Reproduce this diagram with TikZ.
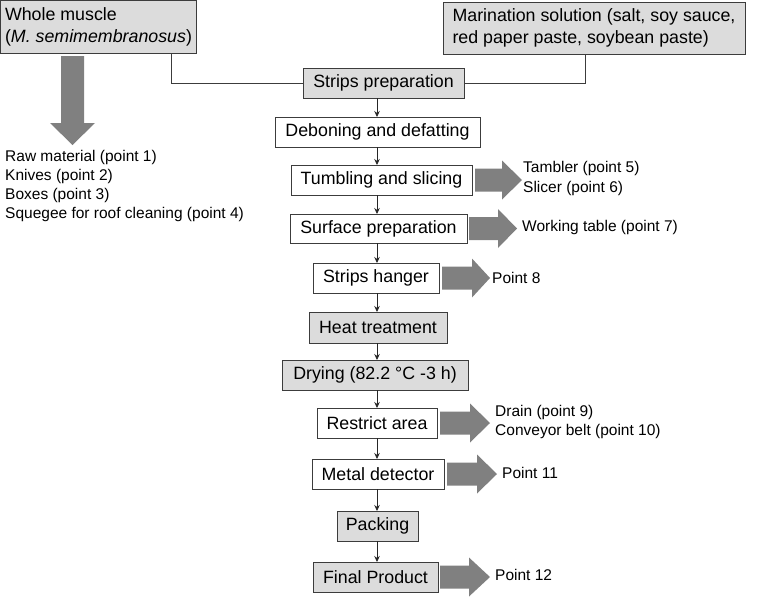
\documentclass[tikz,border=0pt]{standalone}
\usepackage{fontspec}
\setmainfont{Liberation Sans}
\usetikzlibrary{arrows.meta}
\definecolor{boxgray}{RGB}{220,220,220}
\definecolor{edgegray}{RGB}{60,60,60}
\definecolor{arrgray}{RGB}{128,128,128}
\tikzset{
  stepbox/.style={draw=edgegray, line width=0.9pt, fill=white, inner sep=0pt, outer sep=0pt,
    font=\fontsize{17.8}{22}\selectfont, text=black},
  graybox/.style={stepbox, fill=boxgray},
  flow/.style={draw=black!85, line width=0.7pt, -{Stealth[length=6pt,width=5.5pt]}},
  feed/.style={draw=edgegray, line width=0.8pt},
  lbl/.style={anchor=west, inner sep=0pt, align=left, font=\fontsize{15.5}{19.3}\selectfont},
  blockarr/.style={fill=arrgray, draw=none}
}
% right block arrow: start x, head-start x, tip x, centre y
\newcommand{\myRArrow}[4]{%
  \fill[blockarr] (#1,#4-11.5) -- (#2,#4-11.5) -- (#2,#4-19.5) -- (#3,#4) -- (#2,#4+19.5) -- (#2,#4+11.5) -- (#1,#4+11.5) -- cycle;}
\begin{document}
\begin{tikzpicture}[x=1pt,y=-1pt]
\useasboundingbox (0,0) rectangle (757,597);

% top source boxes
\node[graybox, minimum width=196pt, minimum height=53pt, anchor=north west, align=left] (wm) at (0.5,0.5)
  {Whole muscle\\(\textit{M. semimembranosus})};
\node[graybox, minimum width=302pt, minimum height=52pt, anchor=north west, align=left] (mar) at (443,2)
  {Marination solution (salt, soy sauce,\\red paper paste, soybean paste)};

% process column
\node[graybox, minimum width=161pt, minimum height=30pt] (strips) at (383.5,83) {Strips preparation};
\node[stepbox, minimum width=205pt, minimum height=30pt] (debon) at (377.5,132) {Deboning and defatting};
\node[stepbox, minimum width=181pt, minimum height=30pt] (tumb) at (381.5,180) {Tumbling and slicing};
\node[stepbox, minimum width=177pt, minimum height=29pt] (surf) at (378.5,228.5) {Surface preparation};
\node[stepbox, minimum width=126pt, minimum height=30pt] (hang) at (376,278) {Strips hanger};
\node[graybox, minimum width=138pt, minimum height=31pt] (heat) at (378,327.5) {Heat treatment};
\node[graybox, minimum width=186pt, minimum height=30pt] (dry) at (375,375) {Drying (82.2 °C -3 h)};
\node[stepbox, minimum width=120pt, minimum height=30pt] (restr) at (377,423) {Restrict area};
\node[stepbox, minimum width=132pt, minimum height=30pt] (metal) at (378,474) {Metal detector};
\node[graybox, minimum width=81pt, minimum height=30pt] (pack) at (377.5,526) {Packing};
\node[graybox, minimum width=125pt, minimum height=30pt] (final) at (375.5,577) {Final Product};

% feed connectors
\coordinate (c1) at (171,0);
\coordinate (c2) at (585,0);
\coordinate (ax) at (377,0);
\draw[feed] (wm.south -| c1) |- (strips.west);
\draw[feed] (mar.south -| c2) |- (strips.east);

% flow arrows
\draw[flow] (strips.south -| ax) -- (debon.north -| ax);
\draw[flow] (debon.south -| ax) -- (tumb.north -| ax);
\draw[flow] (tumb.south -| ax) -- (surf.north -| ax);
\draw[flow] (surf.south -| ax) -- (hang.north -| ax);
\draw[flow] (hang.south -| ax) -- (heat.north -| ax);
\draw[flow] (heat.south -| ax) -- (dry.north -| ax);
\draw[flow] (dry.south -| ax) -- (restr.north -| ax);
\draw[flow] (restr.south -| ax) -- (metal.north -| ax);
\draw[flow] (metal.south -| ax) -- (pack.north -| ax);
\draw[flow] (pack.south -| ax) -- (final.north -| ax);

% block arrows
\fill[blockarr] (61,56) -- (84,56) -- (84,123) -- (95,123) -- (72.5,145) -- (50,123) -- (61,123) -- cycle;
\myRArrow{475}{502}{522}{180}
\myRArrow{469}{498}{517}{228.5}
\myRArrow{442}{472}{490}{278}
\myRArrow{440}{470}{490}{423}
\myRArrow{447}{477}{497}{474}
\myRArrow{440}{469}{490}{577}

% labels
\node[lbl] (l1) at (5,186) {Raw material (point 1)\\Knives (point 2)\\Boxes (point 3)\\Squegee for roof cleaning (point 4)};
\node[lbl] (l2) at (523,178.5) {Tambler (point 5)\\Slicer (point 6)};
\node[lbl] (l3) at (522,227.5) {Working table (point 7)};
\node[lbl] (l4) at (492,277.5) {Point 8};
\node[lbl] (l5) at (495,422) {Drain (point 9)\\Conveyor belt (point 10)};
\node[lbl] (l6) at (502,473) {Point 11};
\node[lbl] (l7) at (495,574.5) {Point 12};
\end{tikzpicture}
\end{document}
